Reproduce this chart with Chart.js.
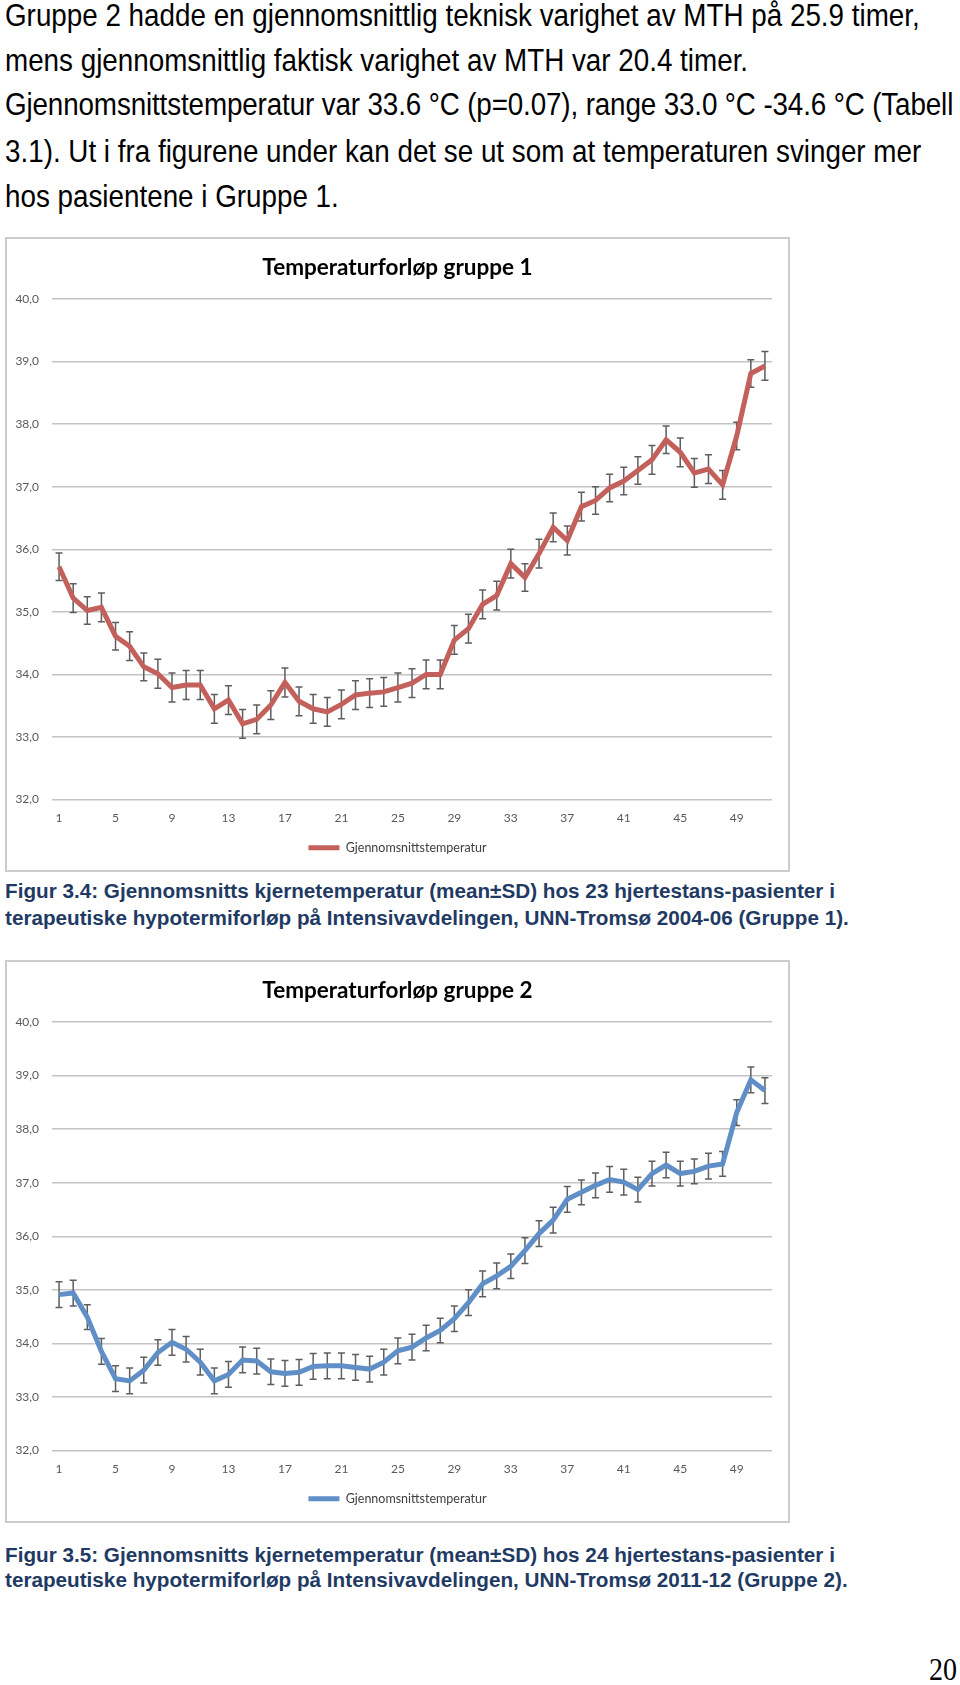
<!DOCTYPE html>
<html>
<head>
<meta charset="utf-8">
<script src="https://cdn.jsdelivr.net/npm/chart.js@4"></script>
<style>
body { margin: 0; background: #fff; width: 960px; height: 1685px; position: relative; overflow: hidden; font-family: "Liberation Sans", Arial, sans-serif; }
.p { position: absolute; left: 5px; font-size: 27.8px; line-height: 30px; white-space: nowrap; color: #000; transform-origin: left center; transform: scaleY(1.1); }
.cap { position: absolute; left: 5px; font-size: 20.7px; line-height: 27px; font-weight: bold; color: #1f3a63; white-space: nowrap; }
.pg { position: absolute; right: 3px; top: 1654px; font-family: "Liberation Serif", "Times New Roman", serif; font-size: 28px; transform: scaleY(1.15); }
canvas { position: absolute; }
</style>
</head>
<body>
<div class="p" style="top:1px">Gruppe 2 hadde en gjennomsnittlig teknisk varighet av MTH på 25.9 timer,</div>
<div class="p" style="top:46px">mens gjennomsnittlig faktisk varighet av MTH var 20.4 timer.</div>
<div class="p" style="top:90px;letter-spacing:-0.13px">Gjennomsnittstemperatur var 33.6 °C (p=0.07), range 33.0 °C -34.6 °C (Tabell</div>
<div class="p" style="top:137px">3.1). Ut i fra figurene under kan det se ut som at temperaturen svinger mer</div>
<div class="p" style="top:182px">hos pasientene i Gruppe 1.</div>

<canvas id="chart1" width="785" height="635" style="left:5px;top:237px"></canvas>

<div class="cap" style="top:877px">Figur 3.4: Gjennomsnitts kjernetemperatur (mean±SD) hos 23 hjertestans-pasienter i</div>
<div class="cap" style="top:904px">terapeutiske hypotermiforløp på Intensivavdelingen, UNN-Tromsø 2004-06 (Gruppe 1).</div>

<canvas id="chart2" width="785" height="563" style="left:5px;top:960px"></canvas>

<div class="cap" style="top:1541px">Figur 3.5: Gjennomsnitts kjernetemperatur (mean±SD) hos 24 hjertestans-pasienter i</div>
<div class="cap" style="top:1566px">terapeutiske hypotermiforløp på Intensivavdelingen, UNN-Tromsø 2011-12 (Gruppe 2).</div>

<div class="pg">20</div>

<script>
// måletidspunkter (kategorier)
const labels = ['1','2','3','4','5','6','7','8','9','10','11','12','13','14','15','16','17',
  '18','19','20','21','22','23','24','25','26','27','28','29','30','31','32','33','34',
  '35','36','37','38','39','40','41','42','43','44','45','46','47','48','49','50','51'];

// Gruppe 1: gjennomsnitt og SD
const mean1 = [35.72, 35.22, 35.02, 35.07, 34.61, 34.45, 34.12, 34.01, 33.79, 33.83,
  33.83, 33.45, 33.59, 33.21, 33.28, 33.51, 33.87, 33.57, 33.45, 33.40,
  33.52, 33.67, 33.70, 33.72, 33.79, 33.86, 34.00, 34.00, 34.55, 34.73,
  35.12, 35.26, 35.77, 35.55, 35.93, 36.35, 36.14, 36.68, 36.78, 36.98,
  37.09, 37.26, 37.43, 37.75, 37.55, 37.22, 37.28, 37.03, 37.81, 38.81, 38.93];
const sd1 = [0.22, 0.23, 0.22, 0.23, 0.22, 0.23, 0.22, 0.23, 0.23, 0.23,
  0.23, 0.23, 0.23, 0.23, 0.23, 0.23, 0.23, 0.23, 0.23, 0.23,
  0.23, 0.23, 0.23, 0.23, 0.23, 0.23, 0.23, 0.23, 0.23, 0.23,
  0.23, 0.23, 0.23, 0.22, 0.23, 0.23, 0.23, 0.23, 0.22, 0.22,
  0.22, 0.22, 0.23, 0.22, 0.23, 0.23, 0.23, 0.23, 0.22, 0.22, 0.23];

// Gruppe 2: gjennomsnitt og SD
const mean2 = [34.91, 34.94, 34.49, 33.85, 33.34, 33.30, 33.50, 33.83, 34.02, 33.89,
  33.65, 33.30, 33.42, 33.69, 33.67, 33.47, 33.44, 33.46, 33.57, 33.58,
  33.58, 33.55, 33.52, 33.65, 33.86, 33.93, 34.10, 34.24, 34.46, 34.76,
  35.11, 35.26, 35.44, 35.73, 36.05, 36.30, 36.69, 36.82, 36.95, 37.06,
  37.01, 36.87, 37.17, 37.33, 37.17, 37.21, 37.31, 37.35, 38.31, 38.92, 38.72];
const sd2 = [0.24, 0.24, 0.23, 0.24, 0.24, 0.24, 0.24, 0.24, 0.24, 0.24,
  0.24, 0.24, 0.24, 0.24, 0.24, 0.24, 0.24, 0.24, 0.24, 0.24,
  0.24, 0.24, 0.24, 0.24, 0.24, 0.24, 0.24, 0.23, 0.24, 0.24,
  0.24, 0.24, 0.23, 0.24, 0.24, 0.24, 0.24, 0.23, 0.23, 0.24,
  0.24, 0.23, 0.23, 0.24, 0.23, 0.23, 0.24, 0.23, 0.24, 0.24, 0.24];

const yTicks = [32, 33, 34, 35, 36, 37, 38, 39, 40];
const seriesName = 'Gjennomsnittstemperatur';

// hvit bakgrunn + ramme rundt diagrammet
const frame = {
  id: 'frame',
  afterLayout(chart) {
    // tittel og forklaring sentreres på hele rammen, ikke bare plottområdet
    [chart.titleBlock, chart.legend].forEach(b => {
      if (b) { b.left = 0; b.right = chart.width; b.width = chart.width; }
    });
  },
  beforeDraw(chart) {
    const c = chart.ctx;
    c.save();
    c.fillStyle = '#fff';
    c.fillRect(0, 0, chart.width, chart.height);
    c.strokeStyle = '#cccccc';
    c.lineWidth = 2;
    c.strokeRect(1, 1, chart.width - 2, chart.height - 2);
    c.restore();
  }
};

// feilstolper (±SD)
const errorBars = {
  id: 'errorBars',
  beforeDatasetsDraw(chart, args, opts) {
    const c = chart.ctx;
    const x = chart.scales.x, y = chart.scales.y;
    const means = chart.data.datasets[0].data;
    c.save();
    c.strokeStyle = '#5e5e5e';
    c.lineWidth = 1.5;
    means.forEach((m, i) => {
      const px = x.getPixelForValue(i);
      const top = y.getPixelForValue(m + opts.sd[i]);
      const bot = y.getPixelForValue(m - opts.sd[i]);
      c.beginPath();
      c.moveTo(px, top); c.lineTo(px, bot);
      c.moveTo(px - 3.5, top); c.lineTo(px + 3.5, top);
      c.moveTo(px - 3.5, bot); c.lineTo(px + 3.5, bot);
      c.stroke();
    });
    c.restore();
  }
};

function makeChart(id, title, means, sds, color) {
  return new Chart(document.getElementById(id), {
    type: 'line',
    data: {
      labels: labels,
      datasets: [{
        label: seriesName,
        data: means,
        borderColor: color,
        backgroundColor: color,
        borderWidth: 5,
        pointRadius: 0,
        tension: 0,
        fill: false
      }]
    },
    options: {
      responsive: false,
      animation: false,
      layout: { padding: { left: 0, right: 18, top: 0, bottom: 8 } },
      scales: {
        x: {
          offset: true,
          grid: { display: false, drawTicks: false },
          border: { display: false },
          ticks: {
            autoSkip: false, maxRotation: 0, padding: 11,
            color: '#595959', font: { family: 'Lato', size: 12 },
            callback: (v, i) => (i % 4 === 0 ? labels[i] : '')
          },
          afterFit: s => { s.height = 32; }
        },
        y: {
          min: 32, max: 40,
          afterBuildTicks: s => { s.ticks = yTicks.map(v => ({ value: v })); },
          grid: { color: '#c4c4c4', lineWidth: 1.5, drawTicks: false },
          border: { display: false },
          ticks: {
            padding: 13, color: '#595959', font: { family: 'Lato', size: 12 },
            callback: v => v.toFixed(1).replace('.', ',')
          },
          afterFit: s => { s.width = 47; }
        }
      },
      plugins: {
        title: {
          display: true, text: title, color: '#000',
          font: { family: 'Lato', size: 22.5, weight: 'bold' },
          padding: { top: 17, bottom: 18 }
        },
        legend: {
          position: 'bottom',
          labels: {
            usePointStyle: true, pointStyle: 'line', pointStyleWidth: 31,
            color: '#404040', font: { family: 'Lato', size: 12.5 }, padding: 10
          }
        },
        tooltip: { enabled: false },
        errorBars: { sd: sds }
      }
    },
    plugins: [frame, errorBars]
  });
}

makeChart('chart1', 'Temperaturforløp gruppe 1', mean1, sd1, '#c3605b');
makeChart('chart2', 'Temperaturforløp gruppe 2', mean2, sd2, '#5f8fc6');
</script>
</body>
</html>
